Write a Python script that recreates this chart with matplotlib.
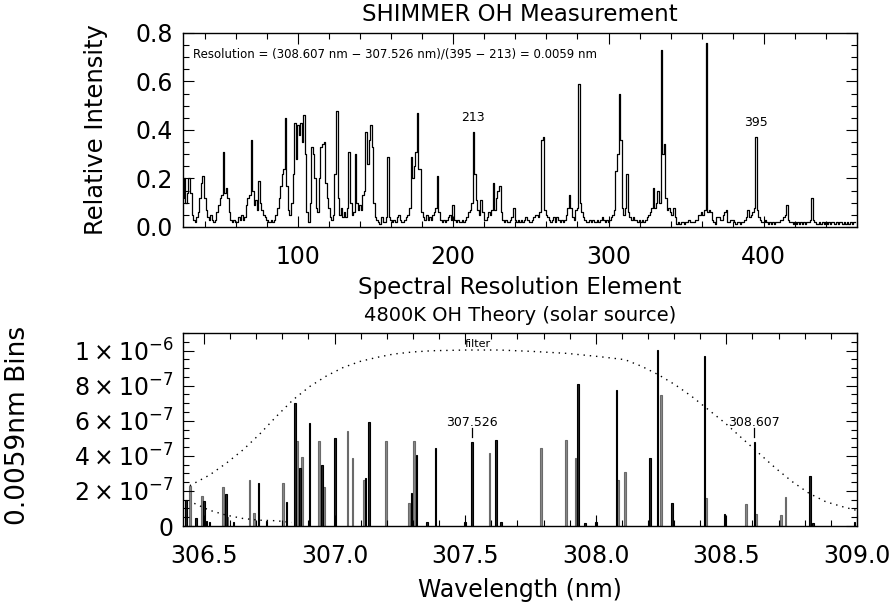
import matplotlib.pyplot as plt
import numpy as np
from matplotlib.ticker import MultipleLocator

plt.rcParams['font.family'] = 'DejaVu Sans'
plt.rcParams['mathtext.fontset'] = 'dejavusans'

# ---- top panel: SHIMMER OH measurement, one value per detector bin ----
first_bin = 26
measured = [
    # bins 26-111
    0.12, 0.20, 0.10, 0.14, 0.20, 0.14,
    0.05, 0.03, 0.02,
    0.04, 0.06, 0.12, 0.18, 0.21, 0.12, 0.07,
    0.04, 0.03, 0.05, 0.03, 0.02, 0.03,
    0.06, 0.09, 0.12, 0.13, 0.31, 0.14, 0.16, 0.12, 0.06,
    0.03, 0.02, 0.03, 0.02, 0.02, 0.04, 0.03, 0.05, 0.03, 0.04,
    0.09, 0.12, 0.13, 0.36, 0.15, 0.09, 0.11, 0.07, 0.19,
    0.10, 0.07, 0.05, 0.04, 0.03, 0.02, 0.02, 0.03, 0.02, 0.03,
    0.05, 0.08, 0.12, 0.17, 0.22, 0.24, 0.45, 0.17, 0.07, 0.05,
    0.10, 0.22, 0.43, 0.28, 0.42, 0.38, 0.43, 0.35, 0.46, 0.30,
    0.06, 0.02, 0.10, 0.33, 0.30, 0.20,
    # bins 112-451, ten per row
    0.08, 0.06, 0.20, 0.33, 0.34, 0.35, 0.18, 0.12, 0.08, 0.04,
    0.03, 0.05, 0.22, 0.48, 0.12, 0.05, 0.08, 0.04, 0.06, 0.04,
    0.08, 0.31, 0.10, 0.05, 0.06, 0.30, 0.10, 0.07, 0.09, 0.07,
    0.13, 0.15, 0.39, 0.26, 0.36, 0.42, 0.33, 0.10, 0.04, 0.03,
    0.02, 0.01, 0.04, 0.02, 0.02, 0.04, 0.29, 0.04, 0.03, 0.02,
    0.03, 0.02, 0.04, 0.05, 0.03, 0.02, 0.02, 0.03, 0.04, 0.05,
    0.08, 0.29, 0.20, 0.25, 0.31, 0.47, 0.24, 0.24, 0.06, 0.04,
    0.03, 0.05, 0.03, 0.04, 0.03, 0.05, 0.06, 0.08, 0.21, 0.06,
    0.03, 0.02, 0.03, 0.02, 0.03, 0.04, 0.05, 0.03, 0.09, 0.03,
    0.02, 0.03, 0.02, 0.02, 0.03, 0.02, 0.03, 0.04, 0.06, 0.07,
    0.10, 0.39, 0.22, 0.11, 0.07, 0.05, 0.11, 0.06, 0.03, 0.03,
    0.04, 0.06, 0.05, 0.07, 0.18, 0.07, 0.12, 0.15, 0.17, 0.06,
    0.03, 0.02, 0.03, 0.02, 0.02, 0.03, 0.04, 0.08, 0.03, 0.02,
    0.03, 0.02, 0.03, 0.02, 0.03, 0.04, 0.03, 0.02, 0.02, 0.03,
    0.04, 0.05, 0.05, 0.04, 0.06, 0.36, 0.37, 0.07, 0.05, 0.04,
    0.03, 0.02, 0.03, 0.04, 0.02, 0.04, 0.03, 0.02, 0.03, 0.02,
    0.03, 0.05, 0.08, 0.13, 0.08, 0.04, 0.03, 0.07, 0.08, 0.59,
    0.10, 0.06, 0.04, 0.03, 0.02, 0.02, 0.03, 0.02, 0.03, 0.02,
    0.02, 0.03, 0.02, 0.03, 0.04, 0.03, 0.02, 0.03, 0.02, 0.03,
    0.04, 0.05, 0.07, 0.23, 0.30, 0.55, 0.36, 0.08, 0.05, 0.08,
    0.22, 0.06, 0.04, 0.03, 0.04, 0.03, 0.03, 0.02, 0.03, 0.02,
    0.03, 0.02, 0.03, 0.04, 0.05, 0.06, 0.08, 0.16, 0.08, 0.10,
    0.15, 0.10, 0.73, 0.30, 0.34, 0.12, 0.07, 0.08, 0.06, 0.05,
    0.08, 0.04, 0.01, 0.02, 0.01, 0.02, 0.02, 0.01, 0.02, 0.02,
    0.03, 0.02, 0.02, 0.02, 0.03, 0.03, 0.05, 0.05, 0.06, 0.05,
    0.07, 0.76, 0.06, 0.07, 0.06, 0.03, 0.02, 0.01, 0.04, 0.04,
    0.03, 0.03, 0.05, 0.06, 0.07, 0.02, 0.02, 0.03, 0.03, 0.02,
    0.01, 0.02, 0.02, 0.01, 0.02, 0.02, 0.03, 0.04, 0.07, 0.04,
    0.05, 0.06, 0.08, 0.37, 0.07, 0.04, 0.03, 0.02, 0.02, 0.03,
    0.02, 0.01, 0.02, 0.01, 0.02, 0.01, 0.02, 0.02, 0.02, 0.03,
    0.03, 0.04, 0.05, 0.09, 0.03, 0.02, 0.02, 0.01, 0.02, 0.01,
    0.02, 0.01, 0.02, 0.01, 0.02, 0.01, 0.02, 0.02, 0.03, 0.12,
    0.03, 0.02, 0.01, 0.01, 0.02, 0.01, 0.02, 0.01, 0.02, 0.01,
    0.02, 0.01, 0.02, 0.02, 0.01, 0.02, 0.01, 0.02, 0.02, 0.01,
    # bins 452-459
    0.02, 0.01, 0.02, 0.01, 0.02, 0.01, 0.02, 0.02,
]
marked_bins = [213, 395]

# ---- bottom panel: 4800K OH theory line strengths (units of 1e-7) ----
dark_wl = [306.431, 306.469, 306.501, 306.510, 306.521, 306.585, 306.613,
           306.709, 306.739, 306.816, 306.848, 306.867, 306.905, 306.953,
           307.002, 307.119, 307.132, 307.294, 307.314, 307.353, 307.387,
           307.500, 307.526, 307.618, 307.637, 307.932, 307.958, 308.000,
           308.080, 308.208, 308.237, 308.291, 308.416, 308.493, 308.607,
           308.821, 308.832, 308.990]
dark_int = [1.5, 0.47, 1.4, 0.28, 0.2, 1.8, 0.2,
            2.43, 0.28, 1.34, 7.0, 3.3, 5.86, 3.5,
            5.0, 2.75, 5.9, 1.86, 4.05, 0.24, 4.47,
            0.24, 4.8, 4.9, 0.2, 8.1, 0.15, 0.24,
            7.76, 3.9, 10.05, 1.29, 9.7, 0.71, 4.8,
            2.87, 0.18, 0.2]
gray_wl = [306.410, 306.446, 306.492, 306.572, 306.591, 306.674, 306.691,
           306.803, 306.857, 306.876, 306.941, 306.959, 307.049, 307.069,
           307.113, 307.196, 307.285, 307.304, 307.593, 307.791, 307.887,
           307.923, 308.086, 308.112, 308.250, 308.422, 308.576, 308.614,
           308.710, 308.727]
gray_int = [1.6, 2.3, 1.7, 2.24, 0.5, 2.6, 0.75,
            2.43, 4.85, 3.95, 4.85, 2.24, 5.4, 3.86,
            2.6, 4.85, 1.29, 4.85, 4.14, 4.43, 4.9,
            3.86, 2.6, 3.1, 7.48, 1.6, 1.25, 0.7,
            0.62, 1.67]

filter_wl = [306.446, 306.521, 306.585, 306.649, 306.713, 306.777, 306.841,
             306.905, 306.970, 307.034, 307.098, 307.162, 307.226, 307.300,
             307.375, 307.503, 307.631, 307.759, 307.888, 308.016, 308.112,
             308.176, 308.240, 308.304, 308.368, 308.432, 308.496, 308.560,
             308.625, 308.689, 308.753, 308.817, 308.881, 308.945, 308.996]
filter_val = [2.3, 2.9, 3.57, 4.33, 5.23, 6.24, 7.19,
              7.95, 8.56, 9.04, 9.38, 9.61, 9.8, 9.92,
              9.99, 10.03, 10.03, 9.95, 9.84, 9.65, 9.48,
              9.1, 8.62, 8.05, 7.38, 6.62, 5.86, 5.0,
              4.14, 3.29, 2.52, 1.86, 1.38, 1.1, 0.9]
lower_wl = [306.463, 306.521, 306.585, 306.649, 306.713, 306.777, 306.836]
lower_val = [1.29, 0.9, 0.62, 0.43, 0.33, 0.3, 0.2]

marked_wl = [307.526, 308.607]
bin_width = 0.0059
scale = 1e-7

fig = plt.figure(figsize=(8.95, 6.1), dpi=100)
ax_top = fig.add_axes([0.2045, 0.628, 0.753, 0.318])
ax_bot = fig.add_axes([0.2045, 0.1377, 0.753, 0.3164])

# top panel
bins = np.arange(first_bin, first_bin + len(measured))
ax_top.step(bins, measured, where='mid', color='black', lw=0.9)
for b in marked_bins:
    ax_top.text(b, measured[b - first_bin] + 0.035, str(b), ha='center',
                va='bottom', fontsize=9)
ax_top.text(32.5, 0.713,
            "Resolution = (308.607 nm \u2212 307.526 nm)/(395 \u2212 213) = 0.0059 nm",
            ha='left', va='center', fontsize=8.5)
ax_top.set_xlim(26, 460)
ax_top.set_ylim(0, 0.8)
ax_top.set_xticks([100, 200, 300, 400])
ax_top.xaxis.set_minor_locator(MultipleLocator(20))
ax_top.set_yticks([0.0, 0.2, 0.4, 0.6, 0.8])
ax_top.set_yticklabels(['0.0', '0.2', '0.4', '0.6', '0.8'])
ax_top.yaxis.set_minor_locator(MultipleLocator(0.05))
ax_top.set_ylabel("Relative Intensity", fontsize=17.5)
ax_top.yaxis.set_label_coords(-0.112, 0.5)
ax_top.text(0.5, 1.093, "SHIMMER OH Measurement", transform=ax_top.transAxes,
            ha='center', va='center', fontsize=16.5)

# bottom panel
ax_bot.bar(gray_wl, np.array(gray_int) * scale, width=bin_width,
           color='#8a8a8a', edgecolor='#6a6a6a', lw=0.8)
ax_bot.bar(dark_wl, np.array(dark_int) * scale, width=bin_width,
           color='#222222', edgecolor='black', lw=0.8)
ax_bot.plot(filter_wl, np.array(filter_val) * scale, color='black', lw=1.0,
            linestyle=(0, (1, 3.5)))
ax_bot.plot(lower_wl, np.array(lower_val) * scale, color='black', lw=1.0,
            linestyle=(0, (1, 3.5)))
ax_bot.text(307.55, 10.35 * scale, "filter", ha='center', va='center', fontsize=8)
for w in marked_wl:
    ax_bot.plot([w, w], [5.1 * scale, 5.6 * scale], color='black', lw=0.9)
    ax_bot.text(w, 5.9 * scale, f"{w:.3f}", ha='center', va='center', fontsize=9)

ax_bot.set_xlim(306.42, 309.0)
ax_bot.set_ylim(0, 1.1e-6)
ax_bot.set_xticks([306.5, 307.0, 307.5, 308.0, 308.5, 309.0])
ax_bot.set_xticklabels(['306.5', '307.0', '307.5', '308.0', '308.5', '309.0'])
ax_bot.xaxis.set_minor_locator(MultipleLocator(0.1))
ax_bot.set_yticks([0, 2e-7, 4e-7, 6e-7, 8e-7, 1e-6])
ax_bot.set_yticklabels(['0', r'$2\times10^{-7}$', r'$4\times10^{-7}$',
                        r'$6\times10^{-7}$', r'$8\times10^{-7}$',
                        r'$1\times10^{-6}$'])
ax_bot.yaxis.set_minor_locator(MultipleLocator(0.5e-7))
ax_bot.set_xlabel("Wavelength (nm)", fontsize=17)
ax_bot.xaxis.set_label_coords(0.5, -0.27)
ax_bot.set_ylabel("0.0059nm Bins", fontsize=19)
ax_bot.yaxis.set_label_coords(-0.225, 0.52)
ax_bot.text(0.5, 1.235, "Spectral Resolution Element", transform=ax_bot.transAxes,
            ha='center', va='center', fontsize=16.5)
ax_bot.text(0.5, 1.093, "4800K OH Theory (solar source)", transform=ax_bot.transAxes,
            ha='center', va='center', fontsize=14)

for ax in (ax_top, ax_bot):
    ax.tick_params(which='both', direction='in', top=True, right=True,
                   labelsize=17, width=0.8)
    ax.tick_params(which='major', length=8)
    ax.tick_params(which='minor', length=4)
    ax.tick_params(axis='x', pad=13)
    ax.tick_params(axis='y', pad=7)
    for s in ax.spines.values():
        s.set_linewidth(1.0)

plt.savefig("out.png", dpi=100)
